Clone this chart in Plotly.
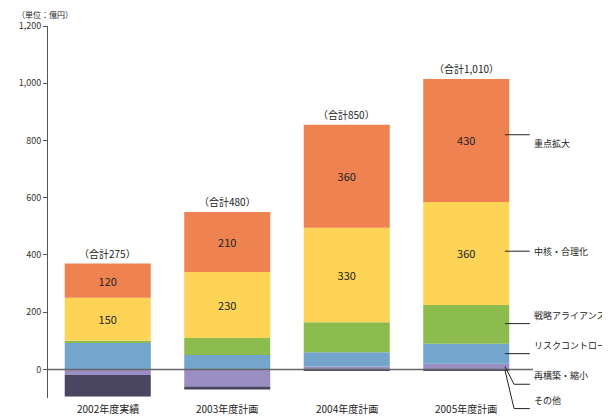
import plotly.graph_objects as go

years = ["2002年度実績", "2003年度計画", "2004年度計画", "2005年度計画"]
totals = ["（合計275）", "（合計480）", "（合計850）", "（合計1,010）"]
series_names = ["再構築・縮小", "その他", "リスクコントロール", "戦略アライアンス", "中核・合理化", "重点拡大"]
restructure = [-20, -60, 10, 20]
other = [-75, -10, -5, -5]
risk = [95, 50, 50, 70]
alliance = [5, 60, 105, 135]
core = [150, 230, 330, 360]
expand = [120, 210, 360, 430]
colors = ["#9A8EC3", "#4A4560", "#74A5CD", "#8CBB4E", "#FDD455", "#EE8250"]
label_y = [820, 413, 160, 55, -52, -137]
anchor_y = [820, 413, 160, 55, 10, -3]

YMIN, YMAX = -100, 1200
def py(v):
    return (v - YMIN) / (YMAX - YMIN)

FONT = "Noto Sans CJK JP"
fig = go.Figure()
data = [restructure, other, risk, alliance, core, expand]
for i, (name, vals) in enumerate(zip(series_names, data)):
    show_text = i >= 4
    fig.add_bar(x=list(range(4)), y=vals, name=name, marker=dict(color=colors[i], line=dict(width=0)),
                width=0.72, text=[str(v) for v in vals] if show_text else None,
                textposition="inside" if show_text else None, insidetextanchor="middle",
                textfont=dict(size=11, color="#222", family=FONT))

ann = []
for i in range(4):
    top = sum(max(d[i], 0) for d in data)
    ann.append(dict(x=i, y=top, text=totals[i], showarrow=False, yanchor="bottom", yshift=1,
                    xref="x", yref="y", font=dict(size=10, color="#222", family=FONT)))
    ann.append(dict(x=i, y=0, xref="x", yref="paper", text=years[i], showarrow=False, yanchor="top",
                    yshift=-1, font=dict(size=10, color="#222", family=FONT)))
shapes = [dict(type="line", xref="paper", yref="y", x0=0, x1=1.015, y0=0, y1=0,
               line=dict(color="#666", width=1.5))]
order = [5, 4, 3, 2, 0, 1]
for k, idx in enumerate(order):
    ly, ay = py(label_y[k]), py(anchor_y[k])
    ann.append(dict(xref="paper", yref="paper", x=1.012, y=ly, text=series_names[idx], showarrow=False,
                    xanchor="left", font=dict(size=9, color="#222", family=FONT)))
    if k < 4:
        shapes.append(dict(type="line", xref="paper", yref="paper", x0=0.956, x1=1.008, y0=ly, y1=ly,
                           line=dict(color="#222", width=1)))
    else:
        shapes.append(dict(type="line", xref="paper", yref="paper", x0=0.956, x1=0.975, y0=ay, y1=ly,
                           line=dict(color="#222", width=1)))
        shapes.append(dict(type="line", xref="paper", yref="paper", x0=0.975, x1=1.008, y0=ly, y1=ly,
                           line=dict(color="#222", width=1)))
ann.append(dict(xref="paper", yref="paper", x=-0.07, y=1.0, yshift=4, text="（単位：億円）", showarrow=False,
                xanchor="left", yanchor="bottom", font=dict(size=8, color="#222", family=FONT)))

fig.update_layout(width=610, height=418, barmode="relative", showlegend=False,
                  plot_bgcolor="white", paper_bgcolor="white",
                  margin=dict(l=40, r=92, t=18, b=28), annotations=ann, shapes=shapes,
                  font=dict(family=FONT))
fig.update_xaxes(range=[-0.5, 3.5], showticklabels=False, showgrid=False, zeroline=False)
fig.update_yaxes(range=[YMIN, YMAX], tickvals=[0, 200, 400, 600, 800, 1000, 1200], tickformat=",",
                 showgrid=False, zeroline=False, showline=True, linecolor="#555", ticks="outside",
                 ticklen=4, tickcolor="#555", tickfont=dict(size=9, color="#333"))
fig.write_html("out.html")
